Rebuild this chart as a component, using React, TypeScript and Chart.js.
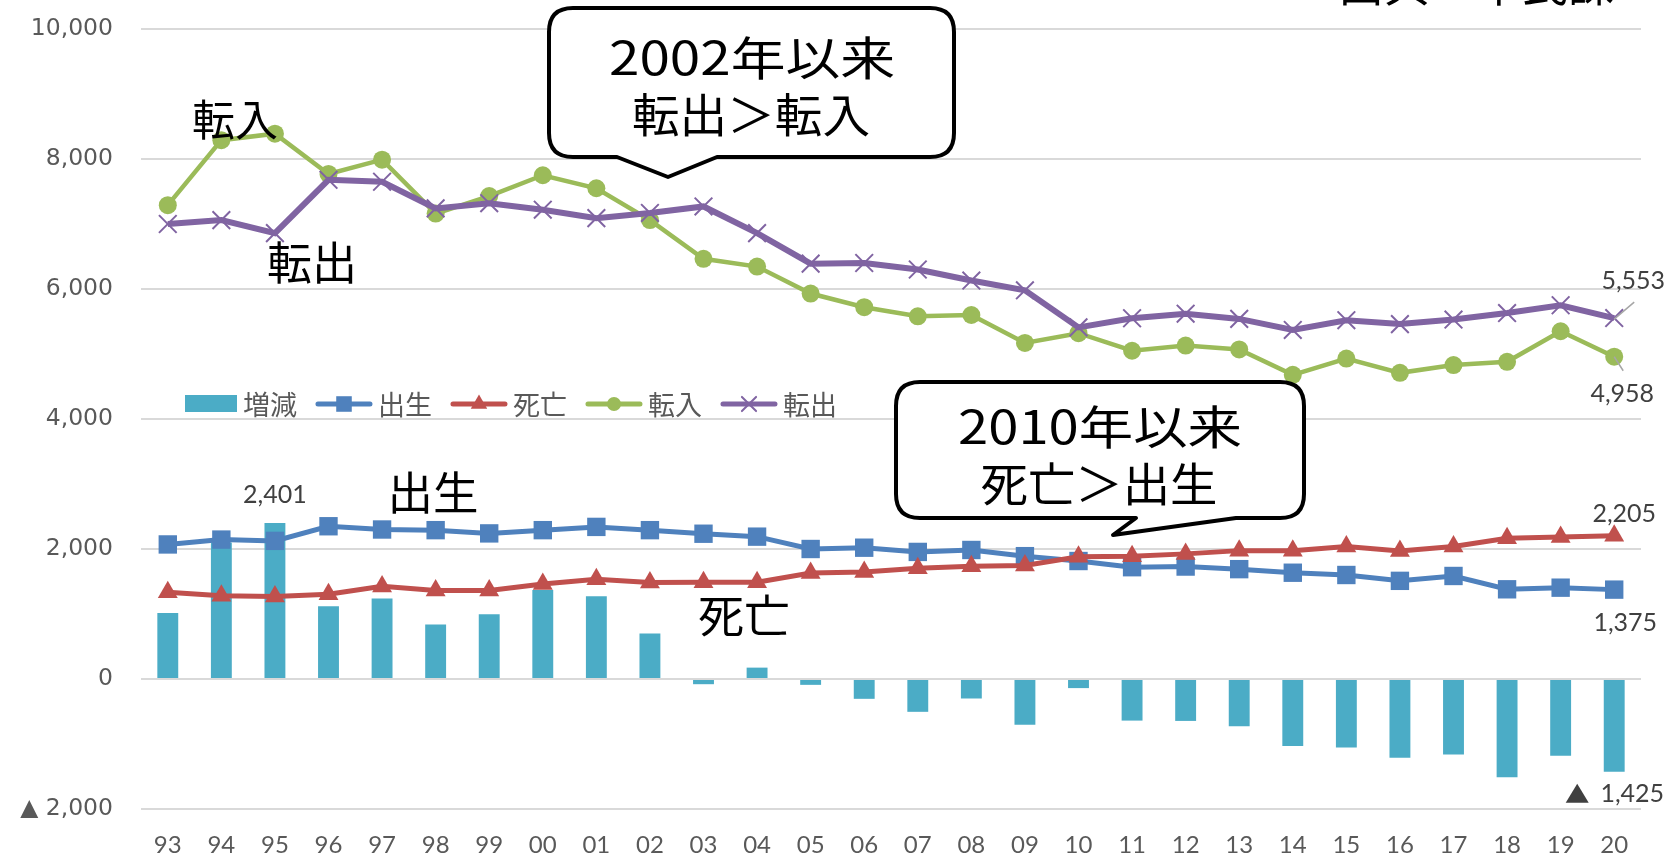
import React, { useEffect, useRef } from 'react';
import { Chart, registerables } from 'chart.js';

Chart.register(...registerables);

const years = ['93','94','95','96','97','98','99','00','01','02','03','04','05','06','07','08','09','10','11','12','13','14','15','16','17','18','19','20'];

const change = [1015, 2100, 2401, 1120, 1240, 840, 995, 1370, 1275, 700, -80, 175, -90, -305, -505, -300, -705, -140, -640, -645, -725, -1030, -1055, -1210, -1160, -1510, -1180, -1425];
const births = [2070, 2145, 2125, 2350, 2300, 2290, 2240, 2290, 2340, 2290, 2235, 2190, 2000, 2020, 1955, 1985, 1890, 1815, 1720, 1730, 1690, 1635, 1600, 1510, 1585, 1380, 1405, 1375];
const deaths = [1335, 1280, 1270, 1305, 1425, 1360, 1360, 1460, 1535, 1485, 1490, 1490, 1630, 1645, 1705, 1735, 1745, 1880, 1890, 1925, 1975, 1975, 2040, 1970, 2040, 2165, 2185, 2205];
const movesIn = [7290, 8290, 8390, 7770, 7990, 7160, 7430, 7750, 7550, 7060, 6465, 6345, 5930, 5720, 5580, 5600, 5170, 5320, 5050, 5130, 5070, 4680, 4930, 4710, 4830, 4880, 5350, 4958];
const movesOut = [7000, 7060, 6860, 7680, 7650, 7240, 7320, 7220, 7090, 7170, 7270, 6860, 6390, 6400, 6300, 6130, 5980, 5410, 5550, 5620, 5540, 5370, 5520, 5460, 5530, 5630, 5750, 5553];

const seriesNames = ['増減', '出生', '死亡', '転入', '転出'];
const yTicks = { min: -2000, max: 10000, step: 2000 };

const CJK = '"Noto Sans CJK JP", "Noto Sans", sans-serif';

const fmt = (v: number) => Math.abs(v).toLocaleString('en-US');

function drawFit(ctx: CanvasRenderingContext2D, text: string, cx: number, cy: number, width: number, font: string, color = '#000') {
  ctx.save();
  ctx.font = font;
  ctx.fillStyle = color;
  ctx.textAlign = 'center';
  ctx.textBaseline = 'middle';
  const w = ctx.measureText(text).width;
  ctx.translate(cx, cy);
  ctx.scale(width / w, 1);
  ctx.fillText(text, 0, 0);
  ctx.restore();
}

function roundRectCallout(ctx: CanvasRenderingContext2D, x0: number, y0: number, x1: number, y1: number, r: number, tl: number, tip: [number, number], tr: number) {
  ctx.beginPath();
  ctx.moveTo(x0 + r, y0);
  ctx.lineTo(x1 - r, y0);
  ctx.quadraticCurveTo(x1, y0, x1, y0 + r);
  ctx.lineTo(x1, y1 - r);
  ctx.quadraticCurveTo(x1, y1, x1 - r, y1);
  ctx.lineTo(tr, y1);
  ctx.lineTo(tip[0], tip[1]);
  ctx.lineTo(tl, y1);
  ctx.lineTo(x0 + r, y1);
  ctx.quadraticCurveTo(x0, y1, x0, y1 - r);
  ctx.lineTo(x0, y0 + r);
  ctx.quadraticCurveTo(x0, y0, x0 + r, y0);
  ctx.closePath();
  ctx.fillStyle = '#fff';
  ctx.fill();
  ctx.lineWidth = 4;
  ctx.strokeStyle = '#000';
  ctx.lineJoin = 'round';
  ctx.stroke();
}

function drawMarker(ctx: CanvasRenderingContext2D, style: string, x: number, y: number, r: number, color: string) {
  ctx.save();
  ctx.fillStyle = color;
  ctx.strokeStyle = color;
  ctx.beginPath();
  if (style === 'rect') {
    const s = r * Math.SQRT1_2;
    ctx.rect(x - s, y - s, 2 * s, 2 * s);
    ctx.fill();
  } else if (style === 'triangle') {
    ctx.moveTo(x, y - r);
    ctx.lineTo(x + r * Math.sin(Math.PI * 2 / 3), y - r * Math.cos(Math.PI * 2 / 3));
    ctx.lineTo(x - r * Math.sin(Math.PI * 2 / 3), y - r * Math.cos(Math.PI * 2 / 3));
    ctx.closePath();
    ctx.fill();
  } else if (style === 'circle') {
    ctx.arc(x, y, r, 0, Math.PI * 2);
    ctx.fill();
  } else if (style === 'crossRot') {
    const d = r * Math.SQRT1_2;
    ctx.lineWidth = 2;
    ctx.moveTo(x - d, y - d); ctx.lineTo(x + d, y + d);
    ctx.moveTo(x - d, y + d); ctx.lineTo(x + d, y - d);
    ctx.stroke();
  }
  ctx.restore();
}

const overlayPlugin = {
  id: 'overlay',
  afterDatasetsDraw(chart: any) {
    const ctx: CanvasRenderingContext2D = chart.ctx;
    const last = years.length - 1;
    const el = (ds: number, i: number) => chart.getDatasetMeta(ds).data[i];

    // Legend
    ctx.save();
    let x = 185;
    const ly = 404;
    ctx.font = `27px ${CJK}`;
    ctx.textBaseline = 'middle';
    ctx.textAlign = 'left';
    chart.data.datasets.forEach((ds: any, i: number) => {
      if (i === 0) {
        ctx.fillStyle = ds.backgroundColor;
        ctx.fillRect(x, ly - 9, 52, 17);
        x += 52;
      } else {
        ctx.strokeStyle = ds.borderColor;
        ctx.lineWidth = 5;
        ctx.lineCap = 'round';
        ctx.beginPath();
        ctx.moveTo(x + 2, ly);
        ctx.lineTo(x + 54, ly);
        ctx.stroke();
        const mr = ds.pointStyle === 'rect' ? 11 : ds.pointStyle === 'triangle' ? 9.5 : ds.pointStyle === 'circle' ? 7 : 10;
        drawMarker(ctx, ds.pointStyle, x + 28, ly, mr, ds.borderColor);
        x += 56;
      }
      x += 6;
      ctx.fillStyle = '#595959';
      ctx.fillText(ds.label, x, ly + 1);
      x += ctx.measureText(ds.label).width + 19;
    });
    ctx.restore();

    // Data labels
    ctx.save();
    ctx.font = '25px Lato, "Liberation Sans", sans-serif';
    ctx.fillStyle = '#404040';
    ctx.textAlign = 'center';
    ctx.textBaseline = 'middle';
    const maxIdx = change.indexOf(Math.max(...change));
    const b = el(0, maxIdx);
    ctx.fillText(fmt(change[maxIdx]), b.x, b.y - 28);

    const pOut = el(4, last);
    const pIn = el(3, last);
    const pD = el(2, last);
    const pB = el(1, last);
    const pC = el(0, last);
    ctx.fillText(fmt(movesOut[last]), pOut.x + 19, pOut.y - 37);
    ctx.fillText(fmt(movesIn[last]), pIn.x + 8, pIn.y + 37);
    ctx.fillText(fmt(deaths[last]), pD.x + 10, pD.y - 22);
    ctx.fillText(fmt(births[last]), pB.x + 11, pB.y + 33);
    ctx.fillText(fmt(change[last]), pC.x + 18, pC.y + 22);
    // ▲ marker for negative value
    const tx = pC.x - 37, ty = pC.y + 22;
    ctx.beginPath();
    ctx.moveTo(tx, ty - 10);
    ctx.lineTo(tx + 11.5, ty + 9);
    ctx.lineTo(tx - 11.5, ty + 9);
    ctx.closePath();
    ctx.fill();

    ctx.strokeStyle = '#A6A6A6';
    ctx.lineWidth = 1.5;
    ctx.beginPath();
    ctx.moveTo(pOut.x, pOut.y + 1);
    ctx.lineTo(pOut.x + 20, pOut.y - 16);
    ctx.moveTo(pIn.x, pIn.y);
    ctx.lineTo(pIn.x + 9, pIn.y + 14);
    ctx.stroke();
    ctx.restore();

    // Series annotations
    drawFit(ctx, '転入', 235, 120, 86, `43px ${CJK}`);
    drawFit(ctx, '転出', 312, 263, 90, `45px ${CJK}`);
    drawFit(ctx, '出生', 433, 493, 91, `45px ${CJK}`);
    drawFit(ctx, '死亡', 744, 616, 92, `45px ${CJK}`);

    // Callouts
    roundRectCallout(ctx, 549, 8, 954, 157, 24, 617, [668, 177], 717);
    drawFit(ctx, '2002年以来', 752, 58, 286, `46px ${CJK}`);
    drawFit(ctx, '転出＞転入', 751, 115, 238, `46px ${CJK}`);

    roundRectCallout(ctx, 896, 382, 1304, 518, 24, 1136, [1113, 535], 1236);
    drawFit(ctx, '2010年以来', 1100, 427, 284, `46px ${CJK}`);
    drawFit(ctx, '死亡＞出生', 1099, 484, 237, `46px ${CJK}`);

    // Source (cut at top)
    ctx.save();
    ctx.font = `46px ${CJK}`;
    ctx.fillStyle = '#000';
    ctx.textAlign = 'left';
    ctx.textBaseline = 'ideographic';
    ctx.fillText('出典：市民課', 1338, 7);
    ctx.restore();
  },
};

export default function App() {
  const ref = useRef<HTMLCanvasElement>(null);
  useEffect(() => {
    const canvas = ref.current!;
    const chart = new Chart(canvas, {
      type: 'bar',
      data: {
        labels: years,
        datasets: [
          { type: 'bar', label: seriesNames[0], data: change, backgroundColor: '#4BACC6', order: 5, categoryPercentage: 1, barPercentage: 0.39 } as any,
          { type: 'line', label: seriesNames[1], data: births, borderColor: '#4F81BD', backgroundColor: '#4F81BD', borderWidth: 5, pointStyle: 'rect', pointRadius: 13, pointBorderWidth: 0, tension: 0, order: 4 } as any,
          { type: 'line', label: seriesNames[2], data: deaths, borderColor: '#C0504D', backgroundColor: '#C0504D', borderWidth: 5, pointStyle: 'triangle', pointRadius: 11.5, pointBorderWidth: 0, tension: 0, order: 3 } as any,
          { type: 'line', label: seriesNames[3], data: movesIn, borderColor: '#9BBB59', backgroundColor: '#9BBB59', borderWidth: 4.5, pointStyle: 'circle', pointRadius: 9, pointBorderWidth: 0, tension: 0, order: 2 } as any,
          { type: 'line', label: seriesNames[4], data: movesOut, borderColor: '#8064A2', backgroundColor: '#8064A2', borderWidth: 6, pointStyle: 'crossRot', pointRadius: 12.5, pointBorderWidth: 2, pointBorderColor: '#8064A2', tension: 0, order: 1 } as any,
        ],
      },
      options: {
        animation: false,
        responsive: true,
        maintainAspectRatio: false,
        layout: { padding: { top: 29, right: 34, left: 0, bottom: 0 }, autoPadding: false },
        plugins: { legend: { display: false }, tooltip: { enabled: false } },
        scales: {
          x: {
            grid: { display: false, drawTicks: false },
            border: { display: false },
            ticks: { color: '#595959', font: { family: 'Lato', size: 24 }, padding: 22, maxRotation: 0, autoSkip: false },
            afterFit: (s: any) => { s.height = 52; s.paddingLeft = 0; s.paddingRight = 0; },
          },
          y: {
            min: yTicks.min,
            max: yTicks.max,
            grid: { color: '#D9D9D9', lineWidth: 2, drawTicks: false },
            border: { display: false },
            ticks: {
              stepSize: yTicks.step,
              color: '#595959',
              font: { family: '"DejaVu Sans"', size: 23.5 },
              padding: 28,
              callback: (v: any) => (v < 0 ? '▲ ' : '') + fmt(Number(v)),
            },
            afterFit: (s: any) => { s.width = 141; s.paddingTop = 0; s.paddingBottom = 0; },
          },
        },
      },
      plugins: [overlayPlugin],
    });
    return () => chart.destroy();
  }, []);
  return (
    <div style={{ position: 'absolute', left: 0, top: 0, width: 1675, height: 861, background: '#fff' }}>
      <canvas ref={ref} />
    </div>
  );
}
